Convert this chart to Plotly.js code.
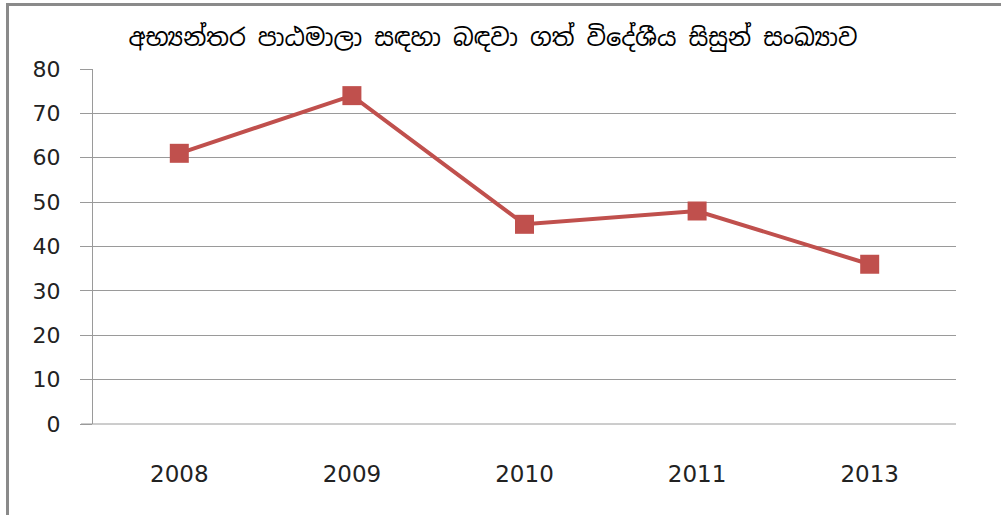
<!DOCTYPE html>
<html><head><meta charset="utf-8">
<script src="https://cdn.plot.ly/plotly-3.0.1.min.js"></script>
<style>html,body{margin:0;padding:0;background:#fff;}#chart{width:1001px;height:515px;}</style>
</head><body><div id="chart"></div>
<script>
const years = ['2008', '2009', '2010', '2011', '2013'];
const students = [61, 74, 45, 48, 36];
const chartTitle = 'අභ්‍යන්තර පාඨමාලා සඳහා බඳවා ගත් විදේශීය සිසුන් සංඛ්‍යාව';

const L = 93, R = 956, T = 69, B = 424, W = 1001, H = 515;
const px = x => (x - L) / (R - L);
const py = y => (B - y) / (B - T);

const trace = {
  x: years, y: students, type: 'scatter', mode: 'lines+markers',
  line: {color: '#C0504D', width: 4},
  marker: {symbol: 'square', size: 19, color: '#C0504D'},
  hoverinfo: 'x+y'
};

const layout = {
  width: W, height: H,
  margin: {l: L, r: W - R, t: T, b: H - B, pad: 0},
  paper_bgcolor: '#fff', plot_bgcolor: '#fff',
  showlegend: false,
  title: {text: chartTitle, x: 493 / W, xanchor: 'center', y: 1 - 38 / H, yanchor: 'middle',
          font: {family: '"Noto Sans Sinhala", "Noto Serif Sinhala", "Iskoola Pota", "Noto Sans", sans-serif', size: 24, color: '#000'}},
  xaxis: {type: 'category', showgrid: false, zeroline: false, showline: false, ticks: '',
          ticklabelstandoff: 34,
          tickfont: {family: 'DejaVu Sans, sans-serif', size: 23, color: '#222'},
          range: [-0.5, 4.5], fixedrange: true},
  yaxis: {range: [0, 80], dtick: 10, showgrid: true, gridcolor: '#9A9A9A', gridwidth: 1,
          zeroline: false, showline: true, linecolor: '#9A9A9A', linewidth: 1,
          ticks: 'outside', ticklen: 12, tickcolor: '#9A9A9A', tickwidth: 1,
          ticklabelstandoff: 15,
          tickfont: {family: 'DejaVu Sans, sans-serif', size: 22, color: '#222'},
          fixedrange: true},
  shapes: [
    {type: 'line', xref: 'paper', yref: 'paper', x0: px(81), x1: px(R), y0: py(B), y1: py(B),
     line: {color: '#9A9A9A', width: 1}, layer: 'below'},
    {type: 'line', xref: 'paper', yref: 'paper', x0: px(7.5), x1: px(7.5), y0: py(4.5), y1: py(H + 2),
     line: {color: '#8A8A8A', width: 3}},
    {type: 'line', xref: 'paper', yref: 'paper', x0: px(6), x1: px(W + 2), y0: py(4.5), y1: py(4.5),
     line: {color: '#8A8A8A', width: 3}}
  ]
};

Plotly.newPlot('chart', [trace], layout, {displayModeBar: false, staticPlot: true});
</script></body></html>
